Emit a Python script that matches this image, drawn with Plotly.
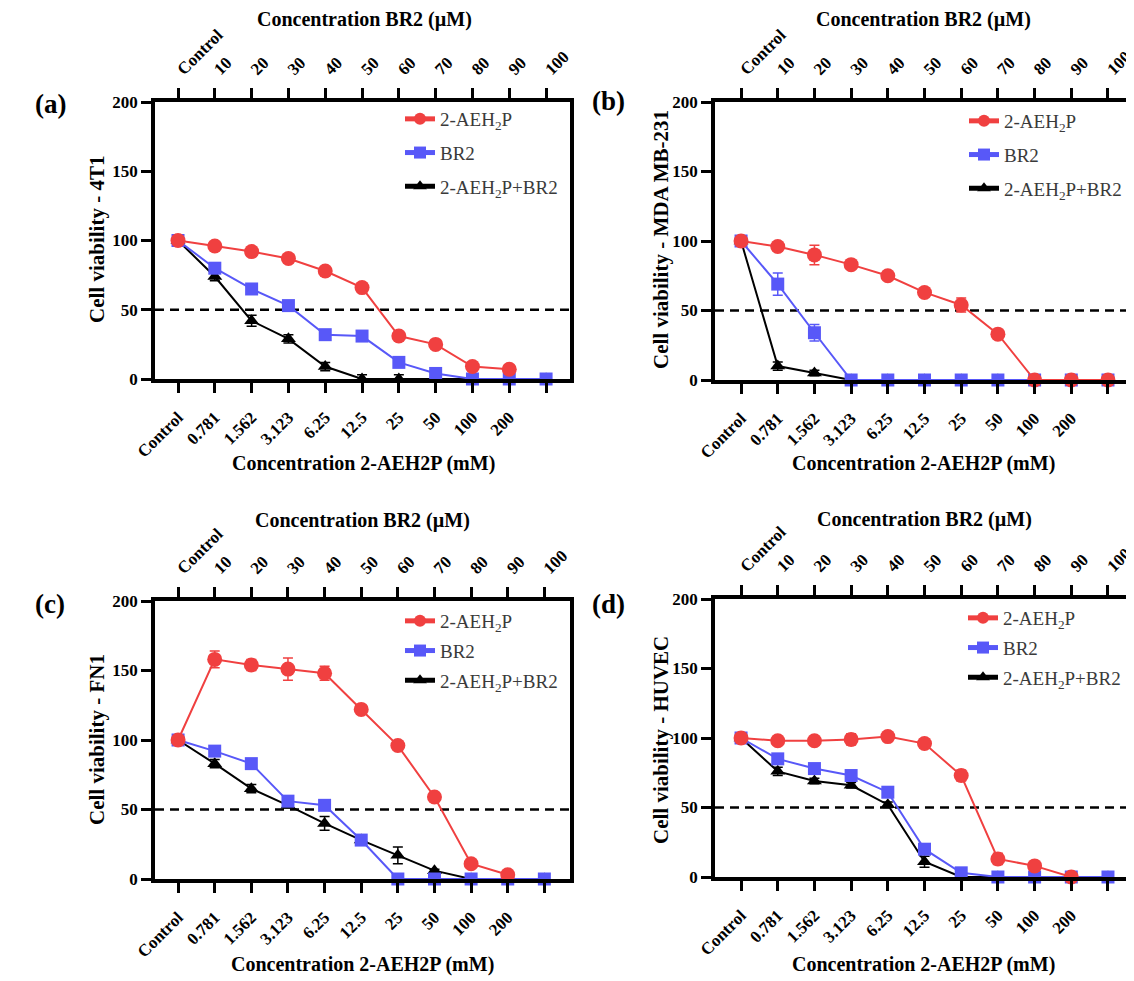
import plotly.graph_objects as go

W, H = 1134, 981
PAGE_OFFSET = 8  # browser body margin

BOTTOM_LABELS = ["Control", "0.781", "1.562", "3.123", "6.25", "12.5", "25", "50", "100", "200", ""]
TOP_LABELS = ["Control", "10", "20", "30", "40", "50", "60", "70", "80", "90", "100"]
Y_TICKS = [0, 50, 100, 150, 200]
THRESHOLD = 50

PANEL_TAGS = ["(a)", "(b)", "(c)", "(d)"]
CELL_LINES = ["4T1", "MDA MB-231", "FN1", "HUVEC"]
SERIES_NAMES = ["2-AEH<sub>2</sub>P", "BR2", "2-AEH<sub>2</sub>P+BR2"]

# (a) 4T1
A_AEH = [100, 96, 92, 87, 78, 66, 31, 25, 9, 7, None]
A_AEH_ERR = [1, 1, 1, 1, 1, 1, 1, 1, 1, 1, 0]
A_BR2 = [100, 80, 65, 53, 32, 31, 12, 4, 0, 0, 0]
A_BR2_ERR = [1, 2, 1, 1, 1, 1, 1, 2, 0, 0, 0]
A_MIX = [100, 74, 42, 29, 9, 0, 0, 0, 0, 0, 0]
A_MIX_ERR = [1, 3, 4, 3, 3, 3, 3, 3, 0, 0, 0]

# (b) MDA MB-231
B_AEH = [100, 96, 90, 83, 75, 63, 54, 33, 0, 0, 0]
B_AEH_ERR = [1, 1, 7, 2, 2, 3, 5, 2, 0, 0, 0]
B_BR2 = [100, 69, 34, 0, 0, 0, 0, 0, 0, 0, 0]
B_BR2_ERR = [1, 8, 6, 0, 0, 0, 0, 0, 0, 0, 0]
B_MIX = [100, 10, 5, 0, 0, 0, 0, 0, 0, 0, 0]
B_MIX_ERR = [1, 3, 2, 0, 0, 0, 0, 0, 0, 0, 0]

# (c) FN1
C_AEH = [100, 158, 154, 151, 148, 122, 96, 59, 11, 3, None]
C_AEH_ERR = [1, 6, 4, 8, 5, 1, 1, 2, 2, 1, 0]
C_BR2 = [100, 92, 83, 56, 53, 28, 0, 0, 0, 0, 0]
C_BR2_ERR = [1, 1, 1, 1, 1, 1, 0, 0, 0, 0, 0]
C_MIX = [100, 83, 65, 53, 40, 28, 17, 6, 0, 0, 0]
C_MIX_ERR = [1, 3, 3, 2, 5, 2, 6, 1, 0, 0, 0]

# (d) HUVEC
D_AEH = [100, 98, 98, 99, 101, 96, 73, 13, 8, 0, None]
D_AEH_ERR = [1, 1, 2, 4, 1, 3, 4, 4, 1, 0, 0]
D_BR2 = [100, 85, 78, 73, 61, 20, 3, 0, 0, 0, 0]
D_BR2_ERR = [1, 1, 1, 1, 1, 3, 1, 0, 0, 0, 0]
D_MIX = [100, 76, 69, 66, 52, 11, 0, 0, 0, 0, 0]
D_MIX_ERR = [1, 3, 2, 2, 2, 4, 0, 0, 0, 0, 0]

DATA = [
    (A_AEH, A_AEH_ERR, A_BR2, A_BR2_ERR, A_MIX, A_MIX_ERR),
    (B_AEH, B_AEH_ERR, B_BR2, B_BR2_ERR, B_MIX, B_MIX_ERR),
    (C_AEH, C_AEH_ERR, C_BR2, C_BR2_ERR, C_MIX, C_MIX_ERR),
    (D_AEH, D_AEH_ERR, D_BR2, D_BR2_ERR, D_MIX, D_MIX_ERR),
]

RED = "rgb(240,64,64)"
BLUE = "rgb(88,88,248)"
BLACK = "rgb(0,0,0)"
SERIF = "Liberation Serif, Times New Roman, serif"

# layout geometry (pixels, in the picture's frame)
BOXES = [  # x0, x1, ytop, ybottom
    (155, 570, 102, 379),
    (715, 1130, 102, 380),
    (155, 570, 601, 879),
    (715, 1130, 599, 877),
]
XRANGES = [(-0.625, 10.65), (-0.71, 10.6), (-0.63, 10.7), (-0.71, 10.6)]
LEGEND_POS = [(400, 100), (964, 102), (400, 602), (963, 599)]
LEGEND_GAP = [6, 6, 2, 2]
TITLE_POS = [  # top title, bottom title, y title, tag
    ((364, 19), (363, 464), (97, 240), (50, 104)),
    ((923, 19), (923, 464), (661, 240), (608, 101)),
    ((362, 520), (362, 964), (97, 740), (50, 604)),
    ((924, 519), (923, 964), (661, 740), (608, 604)),
]


def px(v):
    return (v - PAGE_OFFSET) / W


def py(v):
    return 1 - (v - PAGE_OFFSET) / H


def axname(letter, n):
    return letter if n == 1 else f"{letter}{n}"


x = list(range(len(TOP_LABELS)))

fig = go.Figure()
layout = dict(
    width=W, height=H, autosize=False,
    margin=dict(l=0, r=0, t=0, b=0, pad=0, autoexpand=False),
    paper_bgcolor="white", plot_bgcolor="white",
    showlegend=True,
    font=dict(family=SERIF, color="black"),
)
annotations = []
shapes = []

for k in range(4):
    aeh, aeh_e, br2, br2_e, mix, mix_e = DATA[k]
    xb = axname("x", 2 * k + 1)
    xt = axname("x", 2 * k + 2)
    yk = axname("y", k + 1)
    leg = "legend" if k == 0 else f"legend{k+1}"
    series = [
        (mix, mix_e, BLACK, "triangle-up", 13, SERIES_NAMES[2], 3),
        (br2, br2_e, BLUE, "square", 13, SERIES_NAMES[1], 2),
        (aeh, aeh_e, RED, "circle", 15, SERIES_NAMES[0], 1),
    ]
    for vals, errs, col, sym, size, name, rank in series:
        fig.add_trace(go.Scatter(
            x=x, y=vals, mode="lines+markers", name=name,
            xaxis=xb, yaxis=yk, legend=leg, legendrank=rank,
            legendgroup=f"g{k}{rank}",
            line=dict(color=col, width=2),
            marker=dict(color=col, symbol=sym, size=size),
            error_y=dict(type="data", array=errs, visible=True,
                         color=col, thickness=1.5, width=5),
            cliponaxis=False,
        ))
    # empty trace so the top (BR2) axis is drawn
    fig.add_trace(go.Scatter(
        x=x, y=[None] * len(x), mode="markers", xaxis=xt, yaxis=yk,
        showlegend=False, hoverinfo="skip",
    ))

    x0, x1, yt, ybm = BOXES[k]
    xdom = [px(x0), px(x1)]
    ydom = [py(ybm), py(yt)]
    rng = list(XRANGES[k])
    tickfont = dict(family=SERIF, size=17, color="black", weight="bold")
    axcommon = dict(
        range=rng, domain=xdom, showgrid=False, zeroline=False,
        showline=True, linecolor="black", linewidth=3.5,
        ticks="outside", ticklen=10, tickwidth=3, tickcolor="black",
        tickmode="array", tickvals=x, tickangle=-45, tickfont=tickfont,
        automargin=False,
    )
    layout[f"xaxis{2*k+1}"] = dict(axcommon, anchor=yk, side="bottom",
                                   ticktext=BOTTOM_LABELS, ticklabelstandoff=8)
    layout[f"xaxis{2*k+2}"] = dict(axcommon, anchor=yk, side="top",
                                   overlaying=xb, ticktext=TOP_LABELS,
                                   ticklabelstandoff=3)
    layout[f"yaxis{k+1}"] = dict(
        range=[0, 200], domain=ydom, anchor=xb, showgrid=False, zeroline=False,
        showline=True, linecolor="black", linewidth=3.5, mirror=True,
        ticks="outside", ticklen=10, tickwidth=3, tickcolor="black",
        tickvals=Y_TICKS, tickfont=tickfont,
        automargin=False,
    )
    lx, ly = LEGEND_POS[k]
    layout[leg] = dict(
        x=px(lx), y=py(ly), xanchor="left", yanchor="top",
        xref="paper", yref="paper",
        bgcolor="rgba(0,0,0,0)", borderwidth=0,
        font=dict(family=SERIF, size=19, color="#3a3a3a"),
        tracegroupgap=LEGEND_GAP[k], itemsizing="constant",
    )
    shapes.append(dict(
        type="line", xref=f"{xb} domain", yref=yk, x0=0, x1=1,
        y0=THRESHOLD, y1=THRESHOLD,
        line=dict(color="black", width=2.5, dash="9px,6px"), layer="below",
    ))
    (tx, ty), (bx, by), (yx, yy), (gx, gy) = TITLE_POS[k]
    tfont = dict(family=SERIF, size=20, color="black")
    annotations += [
        dict(text="<b>Concentration BR2 (µM)</b>", x=px(tx), y=py(ty),
             xref="paper", yref="paper", showarrow=False, font=tfont,
             xanchor="center", yanchor="middle"),
        dict(text="<b>Concentration 2-AEH2P (mM)</b>", x=px(bx), y=py(by),
             xref="paper", yref="paper", showarrow=False, font=tfont,
             xanchor="center", yanchor="middle"),
        dict(text=f"<b>Cell viability - {CELL_LINES[k]}</b>", x=px(yx), y=py(yy),
             xref="paper", yref="paper", showarrow=False,
             font=dict(family=SERIF, size=21, color="black"),
             textangle=-90, xanchor="center", yanchor="middle"),
        dict(text=f"<b>{PANEL_TAGS[k]}</b>", x=px(gx), y=py(gy),
             xref="paper", yref="paper", showarrow=False,
             font=dict(family=SERIF, size=27, color="black"),
             xanchor="center", yanchor="middle"),
    ]

layout["annotations"] = annotations
layout["shapes"] = shapes
fig.update_layout(**layout)
fig.write_html("out.html")
